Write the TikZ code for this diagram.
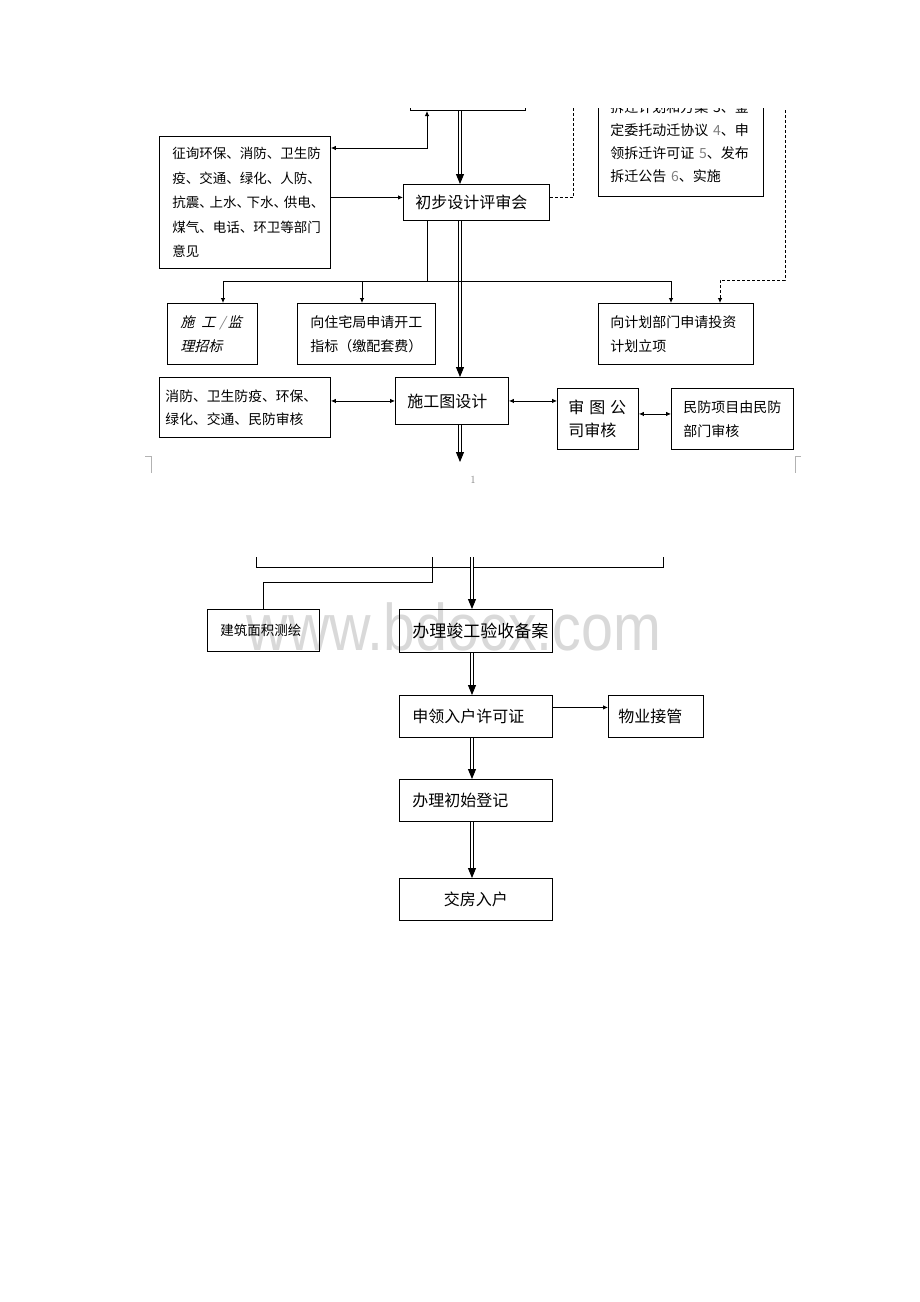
\documentclass[tikz,border=0pt]{standalone}
\usepackage{fontspec}
\newfontfamily\cjk{Noto Sans CJK SC}
\newfontfamily\cjkit[FakeSlant=0.25]{Noto Sans CJK SC}
\newfontfamily\wmfont{Liberation Sans}
\usetikzlibrary{arrows.meta,calc}

\tikzset{
 box/.style={draw, line width=0.9pt, anchor=north west, inner ysep=0pt, align=left},
 small/.style={font=\cjk\fontsize{14pt}{24pt}\selectfont},
 big/.style={font=\cjk\fontsize{16pt}{23pt}\selectfont},
 link/.style={line width=0.8pt},
 arr/.style={link, -{Latex[length=5pt,width=4.5pt]}},
 both/.style={link, {Latex[length=5pt,width=4.5pt]}-{Latex[length=5pt,width=4.5pt]}},
 flow/.style={double, double distance=1.4pt, line width=0.9pt, -{Triangle[length=10pt,width=8pt]}},
 dashline/.style={link, dash pattern=on 3pt off 2pt},
 cropmark/.style={gray!60, line width=0.6pt}
}

\begin{document}
\begin{tikzpicture}[x=1pt,y=-1pt]
\useasboundingbox (0,0) rectangle (920,1302);

% watermark
\node[anchor=base, text=black!15] (wm) at (454,650)
 {\scalebox{0.87}[1]{\wmfont\fontsize{66pt}{66pt}\selectfont www.bdocx.com}};

\begin{scope} %page 1
 \clip (0,108) rectangle (920,1302);

 \node[box, anchor=south west, minimum width=115pt, minimum height=40pt] (guihua) at (410,111) {};
 \node[box, anchor=south west, text width=141pt, inner xsep=12pt, minimum height=109pt,
   font=\cjk\fontsize{14pt}{23pt}\selectfont] (chaiqian) at (598,197)
   {拆迁计划和方案 3、鉴\\定委托动迁协议 {\color{gray}4}、申\\领拆迁许可证 {\color{gray}5}、发布\\拆迁公告 {\color{gray}6}、实施};

 \node[box, text width=145pt, inner xsep=13pt, minimum height=132pt,
   font=\cjk\fontsize{13.5pt}{24.5pt}\selectfont] (zhengxun) at (159,136)
   {征询环保、消防、卫生防\\疫、交通、绿化、人防、\\抗震、\kern-0.25em 上水、\kern-0.25em 下水、\kern-0.25em 供电、\\煤气、电话、环卫等部门\\意见};
 \node[box, big, text width=122pt, inner xsep=12pt, minimum height=36pt] (chubu) at (403,184) {初步设计评审会};

 \node[box, text width=64pt, inner xsep=13pt, minimum height=61pt,
   font=\cjkit\fontsize{14pt}{24pt}\selectfont] (zhaobiao) at (167,303)
   {施\hspace{0.5em}工\hspace{0.3em}{\color{gray}/}\hspace{0.2em}监\\理招标};
 \node[box, small, text width=112pt, inner xsep=13pt, minimum height=61pt] (kaigong) at (297,303)
   {向住宅局申请开工\\指标（缴配套费）};
 \node[box, small, text width=131pt, inner xsep=12pt, minimum height=61pt] (lixiang) at (598,303)
   {向计划部门申请投资\\计划立项};

 \node[box, text width=159pt, inner xsep=6pt, minimum height=60pt,
   font=\cjk\fontsize{13.8pt}{23pt}\selectfont] (shenhe) at (159,377)
   {消防、卫生防疫、环保、\\绿化、交通、民防审核};
 \node[box, big, text width=89pt, inner xsep=12pt, minimum height=47pt] (shigongtu) at (395,377) {施工图设计};
 \node[box, big, text width=59pt, inner xsep=11pt, minimum height=61pt] (shentu) at (557,388)
   {审\hspace{0.3em}图\hspace{0.3em}公\\司审核};
 \node[box, small, text width=98pt, inner xsep=12pt, minimum height=61pt] (minfang) at (671,388)
   {民防项目由民防\\部门审核};

 \coordinate (axis1) at (460,100);
 \coordinate (next) at (460,462);
 \coordinate (dash1) at (573,100);
 \coordinate (dash2) at (785,100);
 \coordinate (branch) at (427,281);
 \coordinate (cw) at ([yshift=5pt]chubu.west);
 \coordinate (ce) at ([yshift=5pt]chubu.east);

 \draw[flow] (axis1 |- guihua.south) -- (axis1 |- chubu.north);
 \draw[flow] (axis1 |- chubu.south) -- (axis1 |- shigongtu.north);
 \draw[flow] (axis1 |- shigongtu.south) -- (next);

 \draw[both] ([yshift=-12pt]zhengxun.north east) -| ([xshift=17pt]guihua.south west);
 \draw[arr] (cw -| zhengxun.east) -- (cw);
 \draw[dashline] (ce) -| (dash1);
 \draw[dashline, -{Latex[length=5pt,width=4.5pt]}] (dash2) |- ([xshift=122pt,yshift=23pt]lixiang.north west)
   -- ([xshift=122pt]lixiang.north west);

 \draw[link] (branch |- chubu.south) -- (branch);
 \draw[arr] (branch) -| ([xshift=56pt]zhaobiao.north west);
 \draw[arr] (branch) -| ([xshift=65pt]kaigong.north west);
 \draw[arr] (branch) -| ([xshift=73pt]lixiang.north west);

 \draw[both] (shigongtu.west -| shenhe.east) -- (shigongtu.west);
 \draw[both] (shigongtu.east) -- (shigongtu.east -| shentu.west);
 \draw[both] ([yshift=5pt]shentu.east) -- ([yshift=5pt]shentu.east -| minfang.west);
\end{scope}

% page break
\draw[cropmark] (145,456) -- (151,456) -- (151,473);
\draw[cropmark] (801,456) -- (795,456) -- (795,473);
\node[text=gray, font=\fontsize{11pt}{11pt}\selectfont] (pageno) at (473,480) {1};

% page 2
\node[box, font=\cjk\fontsize{13.5pt}{20pt}\selectfont, text width=86pt, inner xsep=13pt, minimum height=42pt] (cehui) at (207,609) {建筑面积测绘};
\node[box, font=\cjk\fontsize{17pt}{20pt}\selectfont, text width=127pt, inner xsep=13pt, minimum height=43pt] (beian) at (399,609) {办理竣工验收备案};
\node[box, big, text width=127pt, inner xsep=13pt, minimum height=42pt] (ruhu) at (399,695) {申领入户许可证};
\node[box, big, text width=75pt, inner xsep=10pt, minimum height=42pt] (wuye) at (608,695) {物业接管};
\node[box, big, text width=127pt, inner xsep=13pt, minimum height=42pt] (dengji) at (399,779) {办理初始登记};
\node[box, big, align=center, text width=127pt, inner xsep=13pt, minimum height=42pt] (jiaofang) at (399,878) {交房入户};

\coordinate (left2) at (256,557);
\coordinate (right2) at (663,557);
\coordinate (mid2) at (432,557);
\coordinate (axis2) at (472,557);

\draw[link] (left2) -- ++(0,10) -| (right2);
\draw[link] (mid2) -- ++(0,25) -| ([xshift=56pt]cehui.north west);
\draw[flow] (axis2) -- (axis2 |- beian.north);
\draw[flow] (axis2 |- beian.south) -- (axis2 |- ruhu.north);
\draw[flow] (axis2 |- ruhu.south) -- (axis2 |- dengji.north);
\draw[flow] (axis2 |- dengji.south) -- (axis2 |- jiaofang.north);
\draw[arr] ([yshift=9pt]ruhu.east) -- ([yshift=9pt]ruhu.east -| wuye.west);

\end{tikzpicture}
\end{document}
